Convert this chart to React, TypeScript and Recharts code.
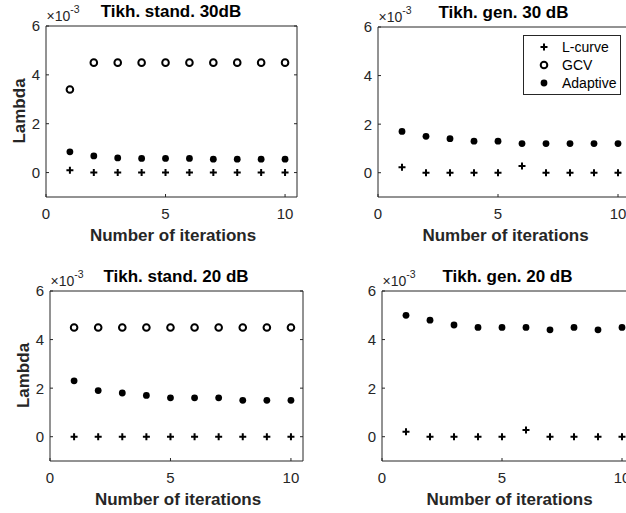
import React from 'react';
import { ScatterChart, Scatter, XAxis, YAxis, Legend } from 'recharts';

// lambda values in units of 1e-3, one entry per iteration
const iterations = [1, 2, 3, 4, 5, 6, 7, 8, 9, 10];

const stand30LCurve = [0.1, 0, 0, 0, 0, 0, 0, 0, 0, 0];
const stand30Gcv = [3.4, 4.5, 4.5, 4.5, 4.5, 4.5, 4.5, 4.5, 4.5, 4.5];
const stand30Adaptive = [0.85, 0.68, 0.6, 0.58, 0.58, 0.58, 0.55, 0.55, 0.55, 0.55];

const gen30LCurve = [0.22, 0, 0, 0, 0, 0.28, 0, 0, 0, 0];
const gen30Adaptive = [1.7, 1.5, 1.4, 1.3, 1.3, 1.2, 1.2, 1.2, 1.2, 1.2];

const stand20LCurve = [0, 0, 0, 0, 0, 0, 0, 0, 0, 0];
const stand20Gcv = [4.5, 4.5, 4.5, 4.5, 4.5, 4.5, 4.5, 4.5, 4.5, 4.5];
const stand20Adaptive = [2.3, 1.9, 1.8, 1.7, 1.6, 1.6, 1.6, 1.5, 1.5, 1.5];

const gen20LCurve = [0.2, 0, 0, 0, 0, 0.28, 0, 0, 0, 0];
const gen20Adaptive = [5.0, 4.8, 4.6, 4.5, 4.5, 4.5, 4.4, 4.5, 4.4, 4.5];

const xTicks = [0, 5, 10];
const yTicks = [0, 2, 4, 6];
const xDomain: [number, number] = [0, 10.5];
const yDomain: [number, number] = [-1, 6];

const seriesNames = ['L-curve', 'GCV', 'Adaptive'];

const INK = '#262626';
const FONT = '"Liberation Sans", Arial, Helvetica, sans-serif';
const TICK = 3;
const AX = 1; // axes need a non-zero size to be drawn
const PAD_L = 45;
const PAD_T = 25;
const PAD_R = 20;
const PAD_B = 55;

const toPoints = (ys: number[] | null) => (ys ? iterations.map((x, i) => ({ x, y: ys[i] })) : []);

const PlusMarker = ({ cx, cy }: any) => (
  <path d={`M${cx - 3.5},${cy}H${cx + 3.5}M${cx},${cy - 3.5}V${cy + 3.5}`} stroke="#000" strokeWidth={2} fill="none" />
);
const RingMarker = ({ cx, cy }: any) => <circle cx={cx} cy={cy} r={3.3} fill="none" stroke="#000" strokeWidth={2} />;
const DotMarker = ({ cx, cy }: any) => <circle cx={cx} cy={cy} r={3.4} fill="#000" />;

const markers = [PlusMarker, RingMarker, DotMarker];

const BottomTick = ({ x, y, payload }: any) => (
  <g>
    <line x1={x} y1={y} x2={x} y2={y - TICK} stroke={INK} />
    <text x={x} y={y + 22} textAnchor="middle" fontSize={15} fill={INK} fontFamily={FONT}>
      {payload.value}
    </text>
  </g>
);
const TopTick = ({ x, y }: any) => <line x1={x} y1={y} x2={x} y2={y + TICK} stroke={INK} />;
const LeftTick = ({ x, y, payload }: any) => (
  <g>
    <line x1={x} y1={y} x2={x + TICK} y2={y} stroke={INK} />
    <text x={x - 6} y={y + 5.4} textAnchor="end" fontSize={15} fill={INK} fontFamily={FONT}>
      {payload.value}
    </text>
  </g>
);
const RightTick = ({ x, y }: any) => <line x1={x} y1={y} x2={x - TICK} y2={y} stroke={INK} />;

const LegendBox = () => (
  <div
    style={{
      border: `1px solid ${INK}`,
      background: '#fff',
      padding: '2px 4px 2px 0',
      fontFamily: FONT,
      fontSize: 14,
      color: '#000',
      width: 98,
      boxSizing: 'border-box',
    }}
  >
    {seriesNames.map((name, i) => {
      const Marker = markers[i];
      return (
        <div key={name} style={{ display: 'flex', alignItems: 'center', height: 18 }}>
          <svg width={38} height={18} style={{ flex: 'none' }}>
            <Marker cx={20} cy={9} />
          </svg>
          <span>{name}</span>
        </div>
      );
    })}
  </div>
);

type Panel = {
  title: string;
  rect: { left: number; top: number; right: number; bottom: number };
  series: (number[] | null)[];
  yLabel: boolean;
  legend: boolean;
};

const panels: Panel[] = [
  {
    title: 'Tikh. stand. 30dB',
    rect: { left: 45.5, top: 25.5, right: 296.5, bottom: 196.5 },
    series: [stand30LCurve, stand30Gcv, stand30Adaptive],
    yLabel: true,
    legend: false,
  },
  {
    title: 'Tikh. gen. 30 dB',
    rect: { left: 377.5, top: 26.5, right: 629.5, bottom: 196.5 },
    series: [gen30LCurve, null, gen30Adaptive],
    yLabel: false,
    legend: true,
  },
  {
    title: 'Tikh. stand. 20 dB',
    rect: { left: 49.5, top: 290.5, right: 302.5, bottom: 460.5 },
    series: [stand20LCurve, stand20Gcv, stand20Adaptive],
    yLabel: true,
    legend: false,
  },
  {
    title: 'Tikh. gen. 20 dB',
    rect: { left: 381.5, top: 290.5, right: 633.5, bottom: 460.5 },
    series: [gen20LCurve, null, gen20Adaptive],
    yLabel: false,
    legend: false,
  },
];

const axisCommon = {
  type: 'number' as const,
  allowDataOverflow: true,
  interval: 0 as const,
  tickSize: 0,
  tickMargin: 0,
  tickLine: false,
  axisLine: { stroke: INK },
};

function PanelChart({ panel }: { panel: Panel }) {
  const { rect } = panel;
  const w = rect.right - rect.left + PAD_L + PAD_R;
  const h = rect.bottom - rect.top + PAD_T + PAD_B;
  return (
    <div style={{ position: 'absolute', left: rect.left - PAD_L, top: rect.top - PAD_T, width: w, height: h }}>
      <ScatterChart
        width={w}
        height={h}
        margin={{ top: PAD_T - AX, right: PAD_R - AX, bottom: PAD_B - AX, left: PAD_L - AX }}
      >
        <XAxis
          {...axisCommon}
          xAxisId="bottom"
          dataKey="x"
          domain={xDomain}
          ticks={xTicks}
          height={AX}
          tick={(p: any) => <BottomTick {...p} />}
        />
        <XAxis
          {...axisCommon}
          xAxisId="top"
          orientation="top"
          domain={xDomain}
          ticks={xTicks}
          height={AX}
          tick={(p: any) => <TopTick {...p} />}
        />
        <YAxis
          {...axisCommon}
          yAxisId="left"
          dataKey="y"
          domain={yDomain}
          ticks={yTicks}
          width={AX}
          tick={(p: any) => <LeftTick {...p} />}
        />
        <YAxis
          {...axisCommon}
          yAxisId="right"
          orientation="right"
          domain={yDomain}
          ticks={yTicks}
          width={AX}
          tick={(p: any) => <RightTick {...p} />}
        />
        {panel.series.map((ys, i) =>
          ys ? (
            <Scatter
              key={seriesNames[i]}
              name={seriesNames[i]}
              xAxisId="bottom"
              yAxisId="left"
              data={toPoints(ys)}
              shape={markers[i]}
              isAnimationActive={false}
            />
          ) : null
        )}
        {panel.legend && (
          <Legend
            layout="vertical"
            align="center"
            verticalAlign="middle"
            content={() => <LegendBox />}
            wrapperStyle={{ position: 'absolute', left: 523 - (rect.left - PAD_L), top: 35 - (rect.top - PAD_T), width: 98, height: 58 }}
          />
        )}
      </ScatterChart>
    </div>
  );
}

export default function App() {
  return (
    <div style={{ position: 'absolute', left: 0, top: 0, width: 626, height: 513, overflow: 'hidden', background: '#fff' }}>
      {panels.map((p) => (
        <PanelChart key={p.title} panel={p} />
      ))}
      <svg width={626} height={513} style={{ position: 'absolute', left: 0, top: 0, pointerEvents: 'none' }}>
        {panels.map((p) => {
          const cx = (p.rect.left + p.rect.right) / 2;
          const cy = (p.rect.top + p.rect.bottom) / 2;
          return (
            <g key={p.title} fontFamily={FONT}>
              <text x={cx} y={p.rect.top - 8.8} textAnchor="middle" fontSize={17} fontWeight="bold" fill="#000">
                {p.title}
              </text>
              <text x={p.rect.left + 1} y={p.rect.top - 4.5} fontSize={14} fill={INK}>
                ×10
                <tspan fontSize={10.5} dy={-8.5}>
                  -3
                </tspan>
              </text>
              <text x={cx + 2} y={p.rect.bottom + 44.5} textAnchor="middle" fontSize={17} fontWeight="bold" fill={INK}>
                Number of iterations
              </text>
              {p.yLabel && (
                <text
                  x={p.rect.left - 21}
                  y={cy}
                  textAnchor="middle"
                  fontSize={17}
                  fontWeight="bold"
                  fill={INK}
                  transform={`rotate(-90 ${p.rect.left - 21} ${cy})`}
                >
                  Lambda
                </text>
              )}
            </g>
          );
        })}
      </svg>
    </div>
  );
}
